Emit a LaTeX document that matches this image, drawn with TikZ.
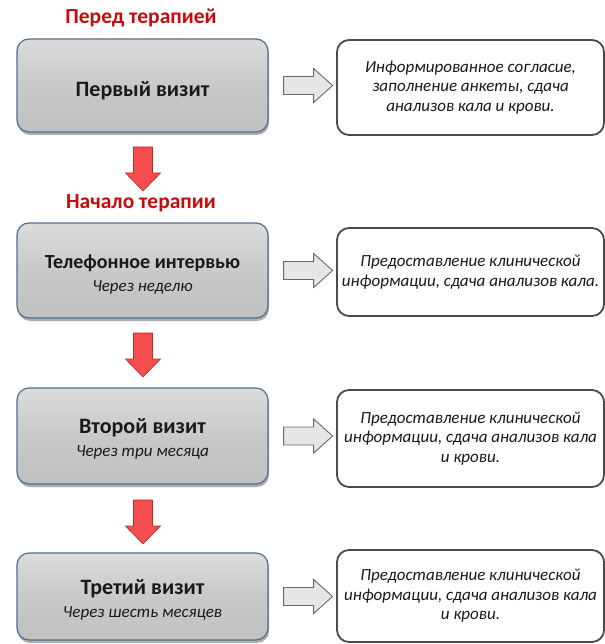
\documentclass[tikz,border=0pt]{standalone}
\usepackage{fontspec}
\setmainfont{Carlito}
\usetikzlibrary{shadows,calc}
\definecolor{visitfill}{RGB}{201,201,201}
\definecolor{visitborder}{RGB}{80,110,140}
\definecolor{infoborder}{RGB}{75,75,75}
\definecolor{redtxt}{RGB}{200,10,10}
\definecolor{redfill}{RGB}{244,78,78}
\definecolor{redborder}{RGB}{190,40,40}
\definecolor{hollowfill}{RGB}{230,230,230}
\definecolor{hollowborder}{RGB}{105,105,105}
\begin{document}
\begin{tikzpicture}[x=1pt,y=-1pt,
  visit/.style={draw=visitborder, line width=1.2pt, top color=visitfill!65!white, bottom color=visitfill!96!black, middle color=visitfill,
    rounded corners=12pt, minimum width=251pt, inner sep=0pt, align=center, text=black!90,
    font=\fontsize{22}{23}\selectfont,
    drop shadow={shadow xshift=1pt, shadow yshift=-3pt, opacity=0.45, fill=black!70}},
  info/.style={draw=infoborder, line width=1.8pt, fill=white, rounded corners=12pt,
    minimum width=267pt, inner sep=0pt, align=center, text=black!90,
    font=\itshape\fontsize{17}{19.5}\selectfont},
  head/.style={font=\bfseries\fontsize{21.5}{24}\selectfont, text=redtxt},
  hollow/.style={draw=hollowborder, fill=hollowfill, line width=0.9pt, line join=miter},
  redarrow/.style={draw=redborder, fill=redfill, line width=0.6pt, line join=miter}]
\useasboundingbox (0,0) rectangle (604,644);

\newcommand\ttl[2][22]{\rule{0pt}{21.5pt}{\bfseries\fontsize{#1}{23}\selectfont #2}}
\newcommand\sub[1]{{\itshape\fontsize{17}{23}\selectfont #1}}

\node[head] (h1) at (141,18) {Перед терапией};
\node[head] (h2) at (141,203) {Начало терапии};

\node[visit, minimum height=93pt] (v1) at (142.5,85.5) {\rule{0pt}{24.5pt}{\bfseries Первый визит}};
\node[visit, minimum height=95pt] (v2) at (142.5,270.5) {\ttl[20]{Телефонное интервью}\\\sub{Через неделю}};
\node[visit, minimum height=96pt] (v3) at (142.5,436) {\ttl{Второй визит}\\\sub{Через три месяца}};
\node[visit, minimum height=87pt] (v4) at (142.5,596.5) {\ttl{Третий визит}\\\sub{Через шесть месяцев}};

\node[info, minimum height=95pt] (i1) at (470.5,87.5) {Информированное согласие,\\заполнение анкеты, сдача\\анализов кала и крови.};
\node[info, minimum height=88pt] (i2) at (470.5,272) {Предоставление клинической\\информации, сдача анализов  кала.};
\node[info, minimum height=97pt] (i3) at (470.5,438.5) {Предоставление клинической\\информации, сдача анализов  кала\\и крови.};
\node[info, minimum height=92pt] (i4) at (470.5,596) {Предоставление клинической\\информации, сдача анализов  кала\\и крови.};

\foreach \v in {v1,v2,v3,v4}{
  \draw[hollow] ($(\v.east)+(15,-9)$) -- ++(30,0) -- ++(0,-8) -- ++(19,17) -- ++(-19,17) -- ++(0,-8) -- ++(-30,0) -- cycle;
}

\foreach \a/\b/\t in {v1/h2/147, v2/v3/333, v3/v4/500}{
  \draw[redarrow] (133.5,\t) -- ++(19,0) -- ++(0,26) -- ++(8,0) -- ++(-17.5,18) -- ++(-17.5,-18) -- ++(8,0) -- cycle;
}
\end{tikzpicture}
\end{document}
